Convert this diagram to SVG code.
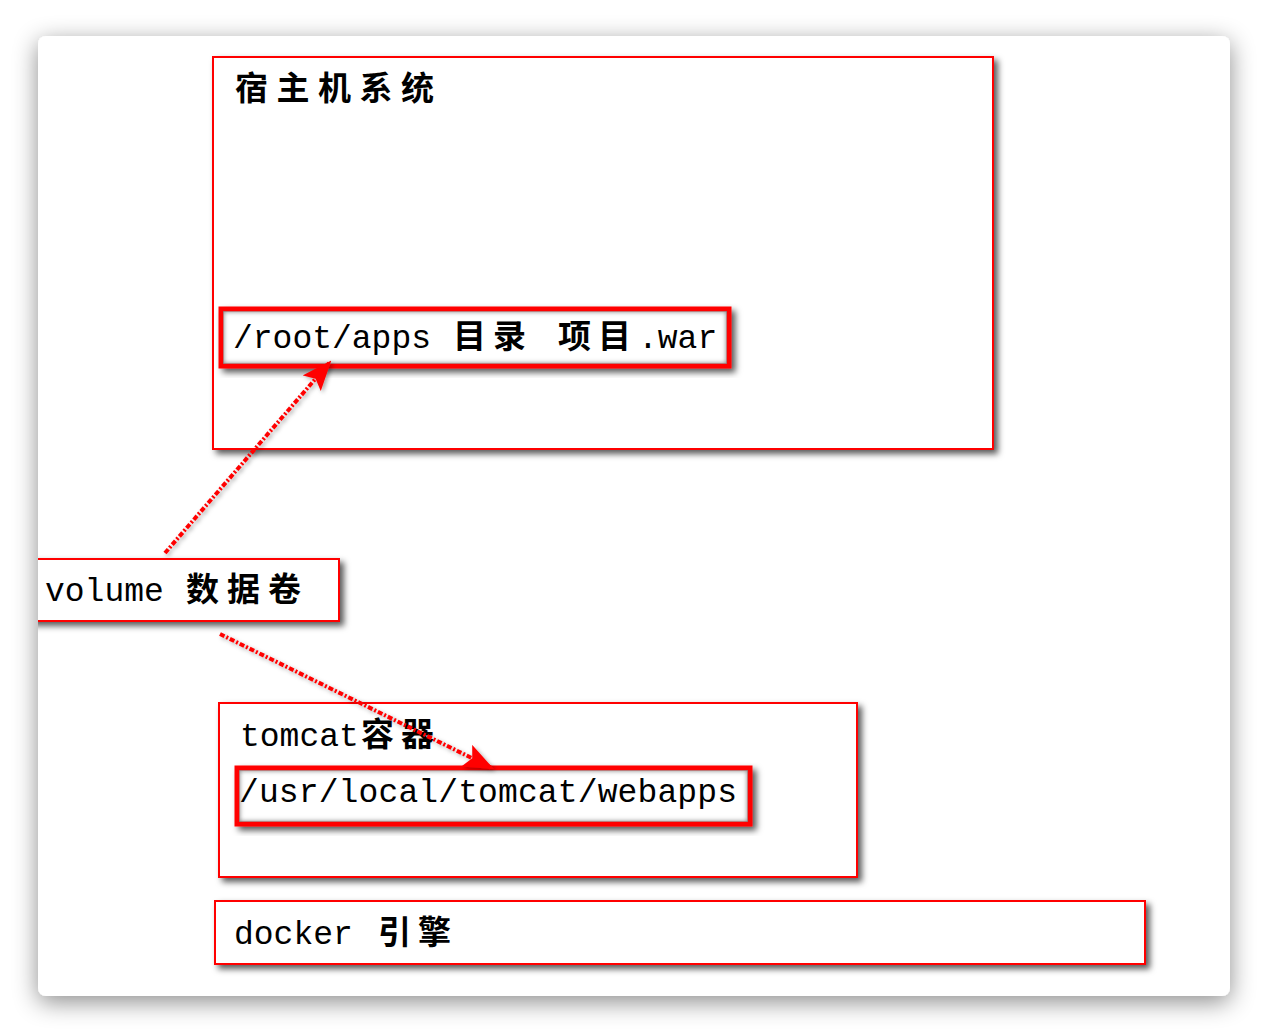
<svg xmlns="http://www.w3.org/2000/svg" width="1266" height="1032" viewBox="0 0 1266 1032">
  <defs>
    <filter id="cardShadow" x="-10%" y="-10%" width="120%" height="125%">
      <feDropShadow dx="0" dy="6" stdDeviation="12" flood-color="#000" flood-opacity="0.45"/>
    </filter>
    <filter id="boxShadow" x="-5%" y="-10%" width="115%" height="130%">
      <feDropShadow dx="4" dy="4" stdDeviation="3" flood-color="#000" flood-opacity="0.65"/>
    </filter>
    <filter id="lineShadow" x="-20%" y="-20%" width="140%" height="140%">
      <feDropShadow dx="2" dy="2" stdDeviation="2" flood-color="#000" flood-opacity="0.35"/>
    </filter>
    <filter id="blur2"><feGaussianBlur stdDeviation="2.5"/></filter>
    <clipPath id="cardClip"><rect x="38" y="36" width="1192" height="960" rx="8"/></clipPath>
    <clipPath id="rootClip"><rect x="223" y="311" width="504" height="53"/></clipPath>
    <clipPath id="webClip"><rect x="239" y="770" width="509" height="52"/></clipPath>
    <marker id="arrow" viewBox="0 0 30 24" refX="28" refY="12" markerWidth="30" markerHeight="24" markerUnits="userSpaceOnUse" orient="auto">
      <path d="M0,0 L30,12 L0,24 L6,12 Z" fill="#ff0000"/>
    </marker>
    <style>
      .frame { fill: #ffffff; stroke: #ff0000; stroke-width: 2; filter: url(#boxShadow); }
      .thick { fill: #ffffff; stroke: #ff0000; stroke-width: 5; filter: url(#boxShadow); }
      .inset { fill: none; stroke: #777777; stroke-width: 5; filter: url(#blur2); }
      .lat { font-family: "Courier New", "Liberation Mono", "DejaVu Sans Mono", monospace; font-size: 33px; fill: #000; }
      .cjk { font-family: "Noto Sans CJK SC", "Noto Sans CJK JP", sans-serif; font-size: 33px; font-weight: bold; fill: #000; }
      .conn { fill: none; stroke: #ff0000; stroke-width: 4; stroke-dasharray: 5 2 2 2; marker-end: url(#arrow); }
    </style>
  </defs>

  <rect x="0" y="0" width="1266" height="1032" fill="#ffffff"/>
  <rect x="38" y="36" width="1192" height="960" rx="8" fill="#ffffff" filter="url(#cardShadow)"/>

  <g clip-path="url(#cardClip)">
    <g id="host">
      <rect class="frame" x="213" y="57" width="780" height="392"/>
      <text class="cjk" x="235" y="100" letter-spacing="8.5">宿主机系统</text>
    </g>

    <g id="host-dir">
      <rect class="thick" x="221" y="309" width="508" height="57"/>
      <g clip-path="url(#rootClip)"><rect class="inset" x="221" y="309" width="508" height="57"/></g>
      <text class="lat" x="233" y="348">/root/apps</text>
      <text class="cjk" x="453" y="348" letter-spacing="7">目录</text>
      <text class="cjk" x="558" y="348" letter-spacing="7">项目</text>
      <text class="lat" x="638" y="348">.war</text>
    </g>

    <g id="volume">
      <rect class="frame" x="30" y="559" width="309" height="62"/>
      <text class="lat" x="45" y="601">volume</text>
      <text class="cjk" x="186" y="601" letter-spacing="8">数据卷</text>
    </g>

    <g id="tomcat">
      <rect class="frame" x="219" y="703" width="638" height="174"/>
      <text class="lat" x="240" y="746">tomcat</text>
      <text class="cjk" x="361" y="746" letter-spacing="7">容器</text>
    </g>

    <g id="container-dir">
      <rect class="thick" x="237" y="768" width="513" height="56"/>
      <g clip-path="url(#webClip)"><rect class="inset" x="237" y="768" width="513" height="56"/></g>
      <text class="lat" x="239" y="802" textLength="498" lengthAdjust="spacing">/usr/local/tomcat/webapps</text>
    </g>

    <g id="docker">
      <rect class="frame" x="215" y="901" width="930" height="63"/>
      <text class="lat" x="234" y="944">docker</text>
      <text class="cjk" x="378" y="944" letter-spacing="7">引擎</text>
    </g>

    <g id="connectors" filter="url(#lineShadow)">
      <line class="conn" x1="165" y1="553" x2="330" y2="362"/>
      <line class="conn" x1="220" y1="634" x2="492" y2="768"/>
    </g>
  </g>
</svg>
